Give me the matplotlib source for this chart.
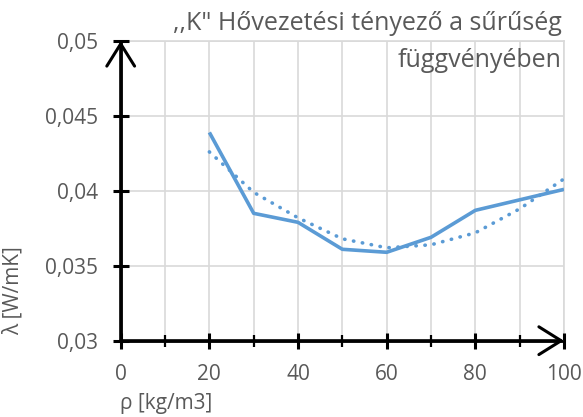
import matplotlib
matplotlib.use("Agg")
import matplotlib.pyplot as plt
from matplotlib.ticker import MultipleLocator, FixedLocator, FixedFormatter
from matplotlib.patches import ArrowStyle

plt.rcParams['font.family'] = ['Open Sans', 'DejaVu Sans']

# Data
density = [20, 30, 40, 50, 60, 70, 80, 90, 100]
conductivity = [0.0439, 0.0385, 0.0379, 0.0361, 0.0359, 0.0369, 0.0387, 0.0394, 0.0401]
trend = [0.0426, 0.0399, 0.0382, 0.0368, 0.0362, 0.0364, 0.0372, 0.0388, 0.0408]
y_ticks = [0.03, 0.035, 0.04, 0.045, 0.05]
y_tick_labels = ["0,03", "0,035", "0,04", "0,045", "0,05"]
x_ticks = [0, 20, 40, 60, 80, 100]
x_tick_labels = ["0", "20", "40", "60", "80", "100"]
title = ",,K\" Hővezetési tényező a sűrűség\nfüggvényében"
xlabel = "ρ [kg/m3]"
ylabel = "λ [W/mK]"

line_color = "#5B9BD5"
text_color = "#595959"
grid_color = "#D9D9D9"

fig = plt.figure(figsize=(5.83, 4.17), dpi=100)
ax = fig.add_axes([120.7 / 583, 1 - 340.7 / 417, (564 - 120.7) / 583, (340.7 - 41) / 417])

ax.plot(density, conductivity, color=line_color, lw=2.6, solid_capstyle='butt', zorder=4)
ax.plot(density, trend, color=line_color, lw=2.6, linestyle=(0, (0.1, 2.4)),
        dash_capstyle='round', zorder=3)

ax.set_xlim(0, 100)
ax.set_ylim(0.03, 0.05)

ax.xaxis.set_major_locator(FixedLocator(x_ticks))
ax.xaxis.set_major_formatter(FixedFormatter(x_tick_labels))
ax.xaxis.set_minor_locator(MultipleLocator(10))
ax.yaxis.set_major_locator(FixedLocator(y_ticks))
ax.yaxis.set_major_formatter(FixedFormatter(y_tick_labels))

ax.grid(True, which='both', axis='x', color=grid_color, lw=1.2, zorder=0)
ax.grid(True, which='major', axis='y', color=grid_color, lw=1.2, zorder=0)
ax.set_axisbelow(True)

for s in ['top', 'right']:
    ax.spines[s].set_visible(False)
for s in ['left', 'bottom']:
    ax.spines[s].set_color('black')
    ax.spines[s].set_linewidth(2)
    ax.spines[s].set_zorder(5)

ax.tick_params(axis='both', which='major', direction='inout', length=11, width=2.2,
               color='black', labelcolor=text_color, labelsize=15)
ax.tick_params(axis='x', which='minor', direction='inout', length=9, width=1.6, color='black')
ax.tick_params(axis='y', which='major', pad=11)
ax.tick_params(axis='x', which='major', pad=11)

# top gridline and right gridline (plot-area border)
ax.axhline(0.05, color=grid_color, lw=1.2, zorder=0, clip_on=False)
ax.axvline(100, color=grid_color, lw=1.2, zorder=0, clip_on=False)

style = ArrowStyle('->', head_length=0.8, head_width=0.5)
ax.annotate('', xy=(0, 1.0), xytext=(0, 0), xycoords='axes fraction',
            arrowprops=dict(arrowstyle=style, lw=2.2, color='black', mutation_scale=20,
                            shrinkA=0, shrinkB=0), zorder=6)
ax.annotate('', xy=(1.0, 0), xytext=(0, 0), xycoords='axes fraction',
            arrowprops=dict(arrowstyle=style, lw=2.2, color='black', mutation_scale=20,
                            shrinkA=0, shrinkB=0), zorder=6)

fig.text(562 / 583, 1 - 42 / 417, title, ha='right', va='center', fontsize=18,
         color=text_color, linespacing=1.6)
fig.text(120 / 583, 1 - 403 / 417, xlabel, ha='left', va='center', fontsize=15, color=text_color)
fig.text(13 / 583, 1 - 291 / 417, ylabel, ha='center', va='center', rotation=90,
         fontsize=15, color=text_color)

fig.savefig("out.png", dpi=100)
